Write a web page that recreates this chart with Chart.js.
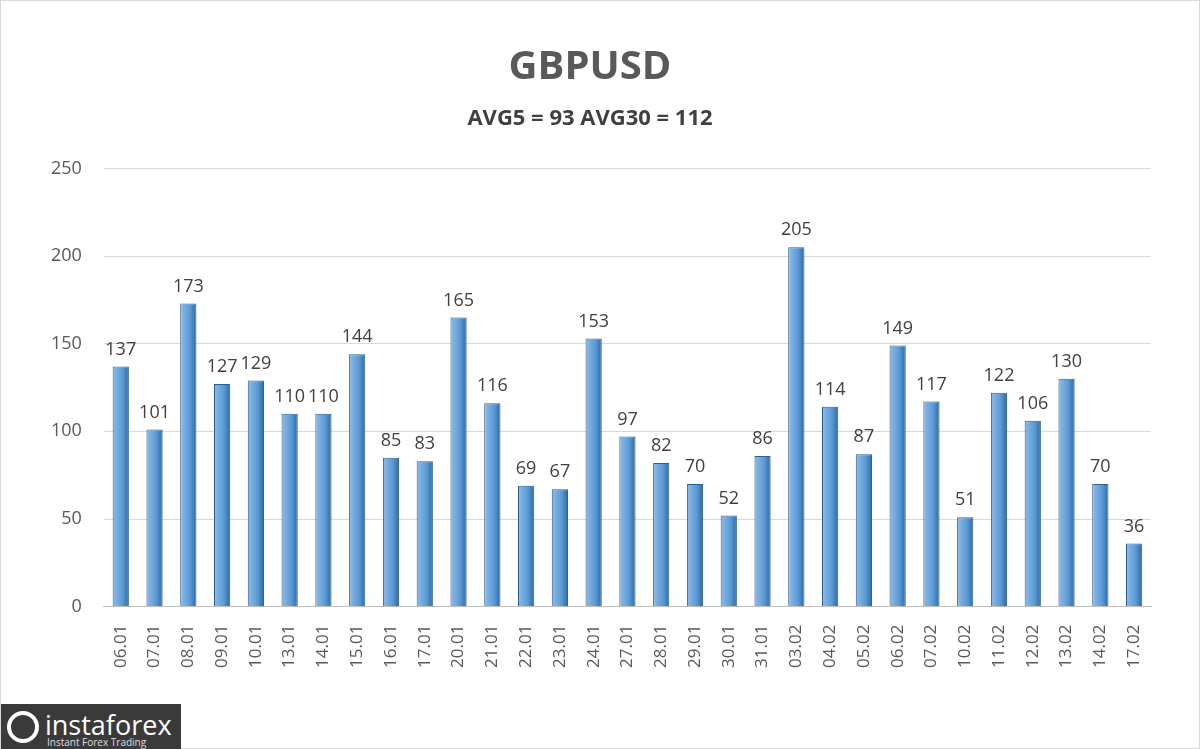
<!DOCTYPE html>
<html>
<head>
<meta charset="utf-8">
<script src="https://cdn.jsdelivr.net/npm/chart.js@4"></script>
<style>
  html, body { margin: 0; padding: 0; background: #fff; }
  #wrap { position: relative; width: 1200px; height: 749px; border: 1px solid #d9d9d9; box-sizing: border-box; }
  #logo { position: absolute; left: 0; top: 703px; width: 180px; height: 46px; background: #3a3a3a;
          color: #fff; font-family: "Open Sans", sans-serif; }
  #logo .big { position: absolute; left: 44px; top: 2px; font-size: 27px; }
  #logo .small { position: absolute; left: 46px; top: 31px; font-size: 10px; color: #ddd; }
  #logo .ic { position: absolute; left: 6px; top: 7px; width: 32px; height: 32px; border-radius: 50%; border: 4px solid #fff; box-sizing: border-box; }
</style>
</head>
<body>
<div id="wrap">
  <canvas id="chart" width="1198" height="747"></canvas>
  <div id="logo"><div class="ic"></div><span class="big">instaforex</span><span class="small">Instant Forex Trading</span></div>
</div>
<script>
const dates = ['06.01','07.01','08.01','09.01','10.01','13.01','14.01','15.01','16.01','17.01',
  '20.01','21.01','22.01','23.01','24.01','27.01','28.01','29.01','30.01','31.01',
  '03.02','04.02','05.02','06.02','07.02','10.02','11.02','12.02','13.02','14.02','17.02'];
const ranges = [137,101,173,127,129,110,110,144,85,83,165,116,69,67,153,97,82,70,52,86,
  205,114,87,149,117,51,122,106,130,70,36];

const labelPlugin = {
  id: 'barLabels',
  afterDatasetsDraw(chart) {
    const ctx = chart.ctx;
    ctx.save();
    ctx.font = '18px "Open Sans", sans-serif';
    ctx.fillStyle = '#404040';
    ctx.textAlign = 'center';
    ctx.textBaseline = 'bottom';
    chart.getDatasetMeta(0).data.forEach((bar, i) => {
      ctx.fillText(ranges[i], bar.x, bar.y - 8);
    });
    ctx.restore();
  }
};

const ctx = document.getElementById('chart').getContext('2d');
new Chart(ctx, {
  type: 'bar',
  data: {
    labels: dates,
    datasets: [{
      data: ranges,
      backgroundColor: (c) => {
        const sx = c.chart.scales && c.chart.scales.x;
        const x = sx ? sx.getPixelForValue(c.dataIndex) : NaN;
        if (!isFinite(x)) return '#5b9bd5';
        const g = c.chart.ctx.createLinearGradient(x - 8, 0, x + 8, 0);
        g.addColorStop(0, '#8fbbe6');
        g.addColorStop(0.6, '#5b9bd5');
        g.addColorStop(1, '#2f6aa6');
        return g;
      },
      borderColor: '#2c5f95',
      borderWidth: 1,
      barPercentage: 0.48,
      categoryPercentage: 1
    }]
  },
  options: {
    responsive: false,
    animation: false,
    layout: { padding: { left: 28, right: 48, top: 8, bottom: 70 } },
    plugins: {
      legend: { display: false },
      tooltip: { enabled: false },
      title: { display: true, text: 'GBPUSD', color: '#595959',
        font: { size: 40, weight: 'bold', family: '"Open Sans", sans-serif' }, padding: { top: 35, bottom: 14 } },
      subtitle: { display: true, text: 'AVG5 = 93 AVG30 = 112', color: '#404040',
        font: { size: 22, weight: 'bold', family: '"Open Sans", sans-serif' }, padding: { bottom: 36 } }
    },
    scales: {
      y: {
        min: 0, max: 250,
        ticks: { stepSize: 50, color: '#595959', font: { size: 18, family: '"Open Sans", sans-serif' }, padding: 22 },
        grid: { color: '#d9d9d9', drawTicks: false },
        border: { display: false }
      },
      x: {
        ticks: { color: '#595959', maxRotation: 90, minRotation: 90, font: { size: 17, family: '"Open Sans", sans-serif' }, padding: 10 },
        grid: { display: false },
        border: { color: '#bfbfbf' }
      }
    }
  },
  plugins: [labelPlugin]
});
</script>
</body>
</html>
